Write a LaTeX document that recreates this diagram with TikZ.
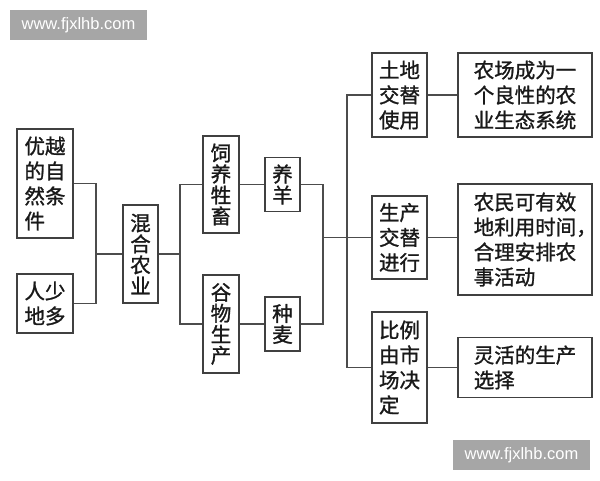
\documentclass[tikz,border=0pt]{standalone}
\usepackage{fontspec}
\newfontfamily\cjk[FakeBold=1.2]{Noto Sans CJK SC}
\newfontfamily\wm{Liberation Sans}
\begin{document}
\begin{tikzpicture}[x=1pt,y=-1pt,
 bx/.style={draw=black!75, line width=1.5pt, inner sep=0pt, align=left,
   font=\cjk\fontsize{20.5}{25}\selectfont, text=black!90},
 nar/.style={bx, font=\cjk\fontsize{20.5}{21}\selectfont},
 ln/.style={draw=black!70, line width=1.3pt},
 wmk/.style={fill=black!35, text=white, font=\wm\fontsize{16.5}{18}\selectfont,
   minimum width=137pt, minimum height=30pt, inner sep=0pt}]
\useasboundingbox (0,0) rectangle (600,480);
\fill[white] (0,0) rectangle (600,480);

\node[wmk] (w1) at (78.5,25) {www.fjxlhb.com};
\node[wmk] (w2) at (521.5,455) {www.fjxlhb.com};

\node[bx, text width=41pt, minimum width=56pt, minimum height=109pt] (n1) at (45,183.5) {优越\\的自\\然条\\件};
\node[bx, text width=41pt, minimum width=56pt, minimum height=59pt] (n2) at (45,303.5) {人少\\地多};
\node[nar, text width=20.5pt, minimum width=35pt, minimum height=98pt] (n3) at (140.5,254) {混\\合\\农\\业};
\node[nar, text width=20.5pt, minimum width=36pt, minimum height=97pt] (n4) at (221,184.5) {饲\\养\\牲\\畜};
\node[nar, text width=20.5pt, minimum width=36pt, minimum height=98pt] (n5) at (221,324) {谷\\物\\生\\产};
\node[nar, text width=20.5pt, minimum width=35pt, minimum height=54pt] (n6) at (282.5,184.5) {养\\羊};
\node[nar, text width=20.5pt, minimum width=35pt, minimum height=54pt] (n7) at (282.5,324) {种\\麦};
\node[bx, text width=41pt, minimum width=55pt, minimum height=84pt] (n8) at (399.5,95) {土地\\交替\\使用};
\node[bx, text width=41pt, minimum width=55pt, minimum height=83pt] (n9) at (399.5,237.5) {生产\\交替\\进行};
\node[bx, text width=41pt, minimum width=55pt, minimum height=111pt] (n10) at (399.5,367.5) {比例\\由市\\场决\\定};
\node[bx, text width=102.5pt, minimum width=134pt, minimum height=84pt] (n11) at (525,95) {农场成为一\\个良性的农\\业生态系统};
\node[bx, text width=102.5pt, minimum width=134pt, minimum height=111pt] (n12) at (525,239.5) {农民可有效\\地利用时间，\\合理安排农\\事活动};
\node[bx, text width=102.5pt, minimum width=134pt, minimum height=60pt] (n13) at (525,367.5) {灵活的生产\\选择};

\coordinate (j1) at (96,254);
\coordinate (j2) at (180,254);
\coordinate (j3) at (323,237.5);
\coordinate (j4) at (347,237.5);

\draw[ln] (n1.east) -| (j1) |- (n2.east);
\draw[ln] (j1) -- (n3.west);
\draw[ln] (n3.east) -- (j2);
\draw[ln] (n4.west) -| (j2) |- (n5.west);
\draw[ln] (n4.east) -- (n6.west);
\draw[ln] (n5.east) -- (n7.west);
\draw[ln] (n6.east) -| (j3) |- (n7.east);
\draw[ln] (j3) -- (n9.west);
\draw[ln] (n8.west) -| (j4) |- (n10.west);
\draw[ln] (n8.east) -- (n11.west);
\draw[ln] (n9.east) -- (n9.east -| n12.west);
\draw[ln] (n10.east) -- (n13.west);
\end{tikzpicture}
\end{document}
